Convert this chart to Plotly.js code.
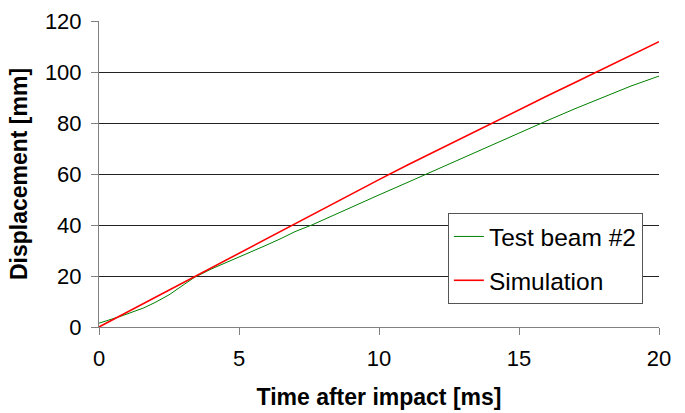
<!DOCTYPE html>
<html>
<head>
<meta charset="utf-8">
<script src="https://cdn.plot.ly/plotly-3.0.1.min.js"></script>
<style>
html,body{margin:0;padding:0;background:#fff;}
#chart{width:685px;height:413px;}
</style>
</head>
<body>
<div id="chart"></div>
<script>
// Time after impact [ms]
const timeTest = [0, 0.8, 1.6, 2, 2.5, 3, 3.4, 4, 4.5, 5, 6, 6.5, 7, 7.6, 8, 9, 10, 11, 11.7, 12, 12.9, 13.6, 14, 15, 15.8, 16, 17, 18, 19, 20];
const testBeam2 = [1.5, 4.3, 7.5, 9.6, 12.6, 16.2, 19.4, 22.7, 25.0, 27.3, 32.2, 34.7, 37.4, 40.0, 42.0, 46.9, 51.8, 56.6, 60.0, 61.6, 65.9, 69.4, 71.4, 76.3, 80.0, 80.9, 85.6, 90.2, 94.5, 98.4];

const timeSim = [0, 1, 2, 3, 4, 5, 6, 7, 8, 9, 10, 11, 12, 13, 14, 15, 16, 17, 18, 19, 20];
const simulation = [0, 5.8, 11.7, 17.5, 23.3, 29.1, 34.9, 40.7, 46.4, 52.1, 57.8, 63.4, 68.9, 74.4, 79.9, 85.3, 90.6, 95.9, 101.2, 106.5, 111.9];

const xTickVals = [0, 5, 10, 15, 20];
const yTickVals = [0, 20, 40, 60, 80, 100, 120];

const font = 'Liberation Sans, Arial, sans-serif';

const traces = [
  {x: timeTest, y: testBeam2, name: 'Test beam #2', type: 'scatter', mode: 'lines',
   line: {color: '#008000', width: 1}, legendgroup: 'a'},
  {x: timeSim, y: simulation, name: 'Simulation', type: 'scatter', mode: 'lines',
   line: {color: '#ff0000', width: 1.6}, legendgroup: 'b'}
];

const layout = {
  width: 685, height: 413,
  margin: {l: 99, r: 26, t: 21, b: 86},
  paper_bgcolor: '#fff', plot_bgcolor: '#fff',
  font: {family: font, size: 22, color: '#000'},
  showlegend: true,
  legend: {
    x: 0.623, y: 0.3725, xanchor: 'left', yanchor: 'top',
    bgcolor: '#fff', bordercolor: '#555', borderwidth: 1,
    font: {family: font, size: 24.5, color: '#000'},
    traceorder: 'grouped', tracegroupgap: 9, itemwidth: 30
  },
  xaxis: {
    range: [0, 20], tickvals: xTickVals, ticktext: xTickVals.map(String),
    ticks: 'outside', ticklen: 7, tickcolor: '#808080', tickwidth: 1,
    ticklabelstandoff: 5,
    showline: true, linecolor: '#808080', linewidth: 1,
    showgrid: false, zeroline: false,
    tickfont: {family: font, size: 22, color: '#000'},
    title: {text: 'Time after impact [ms]', font: {family: font, size: 23, color: '#000', weight: 'bold'}, standoff: 18}
  },
  yaxis: {
    range: [0, 120], tickvals: yTickVals, ticktext: yTickVals.map(String),
    ticks: 'outside', ticklen: 7, tickcolor: '#808080', tickwidth: 1,
    ticklabelstandoff: 5,
    showline: true, linecolor: '#808080', linewidth: 1,
    showgrid: true, gridcolor: '#222', gridwidth: 1, zeroline: false,
    tickfont: {family: font, size: 22, color: '#000'},
    title: {text: 'Displacement [mm]', font: {family: font, size: 23, color: '#000', weight: 'bold'}, standoff: 10}
  }
};

Plotly.newPlot('chart', traces, layout, {staticPlot: true, displayModeBar: false});
</script>
</body>
</html>
